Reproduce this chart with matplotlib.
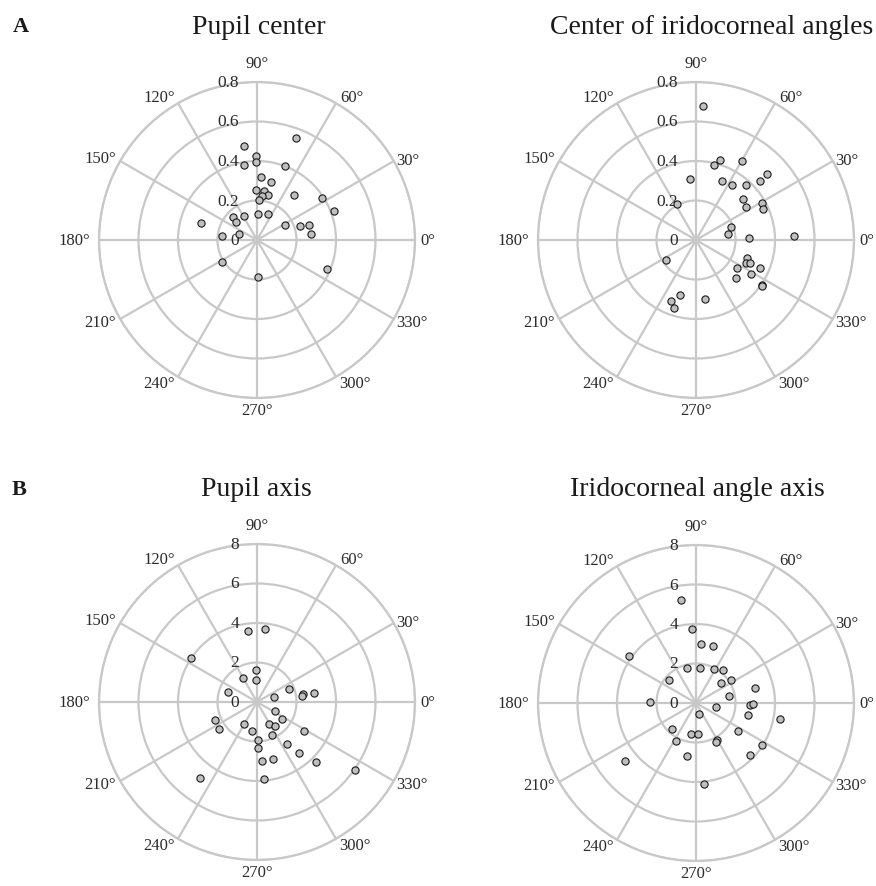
import matplotlib.pyplot as plt
import numpy as np

plt.rcParams['font.family'] = ['Liberation Serif', 'DejaVu Serif']

# angles in degrees, radii in plot units
pupil_center_deg = [69.1, 97.9, 90.9, 91.0, 99.8, 69.3, 86.0, 76.0, 91.5, 82.3, 76.3,
                    83.1, 87.2, 50.5, 33.2, 20.3, 136.2, 118.7, 87.1, 66.7, 138.9,
                    163.3, 27.4, 17.6, 15.7, 6.6, 173.4, 160.3, 212.2, 272.0, 337.4]
pupil_center_r = [0.553, 0.480, 0.425, 0.397, 0.387, 0.401, 0.318, 0.301, 0.255, 0.252,
                  0.235, 0.224, 0.204, 0.297, 0.391, 0.418, 0.168, 0.140, 0.133, 0.145,
                  0.141, 0.294, 0.162, 0.228, 0.275, 0.277, 0.177, 0.095, 0.209, 0.189,
                  0.386]

angles_center_deg = [86.9, 73.4, 76.7, 59.8, 95.3, 66.5, 56.8, 47.9, 43.0, 42.9, 117.6,
                     41.3, 33.9, 29.2, 25.1, 21.0, 10.7, 1.8, 2.1, 213.7, 340.2, 335.5,
                     336.6, 325.6, 336.2, 328.0, 316.0, 326.0, 325.4, 253.7, 278.4,
                     247.7, 252.2]
angles_center_r = [0.678, 0.425, 0.389, 0.462, 0.310, 0.325, 0.332, 0.374, 0.440, 0.490,
                   0.207, 0.314, 0.302, 0.384, 0.374, 0.188, 0.163, 0.266, 0.496, 0.182,
                   0.274, 0.276, 0.297, 0.253, 0.355, 0.328, 0.279, 0.406, 0.409, 0.288,
                   0.301, 0.333, 0.363]

pupil_axis_deg = [83.7, 97.5, 146.0, 91.8, 91.7, 120.5, 160.6, 22.8, 9.4, 7.7, 9.3, 16.1,
                  334.7, 325.6, 202.8, 215.1, 239.4, 297.6, 307.4, 259.5, 294.4, 328.5,
                  272.0, 271.7, 305.5, 309.6, 285.8, 274.8, 314.4, 325.2, 233.2, 275.4]
pupil_axis_r = [3.71, 3.62, 4.02, 1.64, 1.13, 1.43, 1.58, 1.74, 2.38, 2.29, 2.93, 0.92,
                1.03, 1.56, 2.31, 2.36, 1.30, 1.28, 1.53, 1.48, 1.84, 2.82, 1.91, 2.34,
                2.60, 3.32, 2.99, 3.00, 4.26, 6.05, 4.80, 3.94]

angle_axis_deg = [98.1, 93.1, 85.5, 73.7, 144.8, 104.9, 83.0, 61.7, 50.6, 138.8, 39.5,
                  33.3, 13.8, 11.9, 179.2, 349.8, 357.9, 358.7, 286.4, 346.7, 349.5,
                  226.5, 260.3, 273.1, 325.8, 242.6, 299.8, 297.2, 327.9, 260.8, 315.9,
                  219.5, 275.4]
angle_axis_r = [5.27, 3.73, 3.01, 3.00, 4.14, 1.83, 1.80, 1.95, 2.18, 1.79, 1.62, 2.12,
                3.10, 1.72, 2.32, 1.04, 2.76, 2.90, 0.60, 2.70, 4.33, 1.79, 1.61, 1.57,
                2.55, 2.16, 2.14, 2.21, 3.96, 2.73, 3.80, 4.63, 4.11]

titles = ['Pupil center', 'Center of iridocorneal angles', 'Pupil axis',
          'Iridocorneal angle axis']
r_ticks_small = [0, 0.2, 0.4, 0.6, 0.8]
r_labels_small = ['0', '0.2', '0.4', '0.6', '0.8']
r_ticks_big = [0, 2, 4, 6, 8]
r_labels_big = ['0', '2', '4', '6', '8']
theta_ticks = list(range(0, 360, 30))

GRID = '#c8c8c8'
TXT = '#2b2b2b'

# label placement next to the end of each spoke (excel style)
theta_align = {
    0: ('left', 'center', 4, 0), 30: ('left', 'center', 2, 1),
    60: ('left', 'bottom', 3, -1), 90: ('center', 'bottom', 0, 8),
    120: ('right', 'bottom', -2, -1), 150: ('right', 'center', -3, 2),
    180: ('right', 'center', -6, 0), 210: ('right', 'center', -3, -2),
    240: ('right', 'top', -2, 1), 270: ('center', 'top', 0, -3),
    300: ('left', 'top', 2, 1), 330: ('left', 'center', 2, -2),
}

fig = plt.figure(figsize=(8.76, 8.87), dpi=100)


def polar_panel(rect, deg, r, rticks, rlabels):
    ax = fig.add_axes(rect, projection='polar')
    rmax = rticks[-1]
    ax.set_ylim(0, rmax)
    ax.set_yticks(rticks[1:])
    ax.set_yticklabels([])
    ax.set_thetagrids(theta_ticks, [''] * len(theta_ticks))
    ax.grid(True, color=GRID, linewidth=1.6)
    ax.spines['polar'].set_color(GRID)
    ax.spines['polar'].set_linewidth(1.6)
    for t in theta_ticks:
        ha, va, dx, dy = theta_align[t]
        ax.annotate(f'{t}\u00b0', xy=(np.deg2rad(t), rmax), xytext=(dx, dy),
                    textcoords='offset points', ha=ha, va=va, fontsize=12,
                    color=TXT, annotation_clip=False)
    for v, lbl in zip(rticks, rlabels):
        ax.annotate(lbl, xy=(np.pi / 2, v), xytext=(-13, 0), textcoords='offset points',
                    ha='right', va='center', fontsize=12.5, color=TXT)
    ax.scatter(np.deg2rad(deg), r, s=27, facecolor='#bfbfbf', edgecolor='#1a1a1a',
               linewidths=0.8, zorder=3, clip_on=False)
    return ax


w, h = 316 / 876, 316 / 887
polar_panel([99 / 876, 1 - 399 / 887, w, h], pupil_center_deg, pupil_center_r,
            r_ticks_small, r_labels_small)
polar_panel([538 / 876, 1 - 399 / 887, w, h], angles_center_deg, angles_center_r,
            r_ticks_small, r_labels_small)
polar_panel([99 / 876, 1 - 861 / 887, w, h], pupil_axis_deg, pupil_axis_r,
            r_ticks_big, r_labels_big)
polar_panel([538 / 876, 1 - 862 / 887, w, h], angle_axis_deg, angle_axis_r,
            r_ticks_big, r_labels_big)

title_pos = [(259, 'center', 27), (873, 'right', 27), (256, 'center', 490),
             (697, 'center', 490)]
for t, (x, ha, y) in zip(titles, title_pos):
    fig.text(x / 876, 1 - y / 887, t, ha=ha, va='center', fontsize=20, color='#1a1a1a')
fig.text(13 / 876, 1 - 27 / 887, 'A', ha='left', va='center', fontsize=16,
         fontweight='bold', color='#1a1a1a')
fig.text(12 / 876, 1 - 490 / 887, 'B', ha='left', va='center', fontsize=16,
         fontweight='bold', color='#1a1a1a')

fig.savefig('out.png', dpi=100, facecolor='white')
